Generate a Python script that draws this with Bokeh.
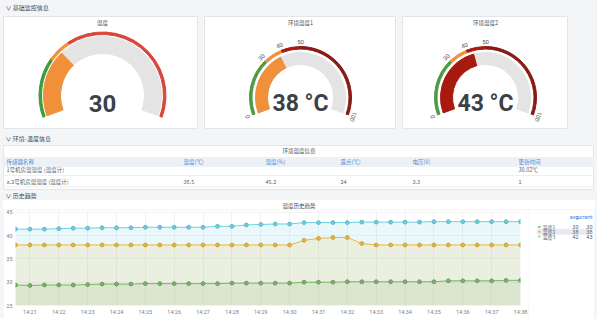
import numpy as np
from bokeh.plotting import figure
from bokeh.layouts import column, row
from bokeh.models import Range1d, FixedTicker, Spacer
from bokeh.core.properties import value
from bokeh.embed import file_html
from bokeh.resources import INLINE

# ================= data =================
section_titles = ["基础监控信息", "环境-温度信息", "历史趋势"]

gauge_titles = ["温度", "环境温度1", "环境温度2"]
gauge_values = [30, 38, 43]
gauge_units = ["", " °C", " °C"]
gauge_min = 0
gauge_max = 100
gauge_thresholds = [[0, 25, 35], [0, 30, 40, 50], [0, 30, 40, 50]]
gauge_show_labels = [False, True, True]

table_title = "环境温度信息"
table_columns = ["传感器名称", "温度(℃)", "湿度(%)", "露点(℃)", "电压(V)", "更新时间"]
table_rows = [
    ["1号机房温湿度 (温度计)", "", "", "", "", "30.02℃"],
    ["a.2号机房温湿度 (温度计)", "38.5", "45.2", "24", "3.3", "1"],
]

chart_title = "温度历史趋势"
series_names = ["温度1", "温度2", "温度3"]
temp1 = [29.4, 29.3, 29.4, 29.4, 29.4, 29.5, 29.6, 29.6, 29.6, 29.7, 29.7, 29.7,
         29.7, 29.7, 29.7, 29.8, 29.8, 29.8, 29.8, 29.8, 30.0, 30.0, 30.0, 30.1,
         30.1, 30.1, 30.1, 30.1, 30.1, 30.1, 30.3, 30.3, 30.3, 30.3, 30.4, 30.4]
temp2 = [38.0, 38.0, 38.0, 38.0, 38.0, 38.0, 38.0, 38.0, 38.0, 38.0, 38.0, 38.0,
         38.0, 38.0, 38.0, 38.0, 38.0, 38.0, 38.0, 38.0, 39.0, 39.4, 39.6, 39.6,
         38.3, 38.0, 38.0, 38.0, 38.0, 38.0, 38.0, 38.0, 38.0, 38.0, 38.0, 38.0]
temp3 = [41.4, 41.4, 41.4, 41.5, 41.6, 41.6, 41.7, 41.7, 41.7, 41.8, 41.8, 41.8,
         41.8, 41.8, 42.0, 42.0, 42.3, 42.4, 42.5, 42.5, 42.8, 42.8, 42.8, 42.8,
         42.9, 42.9, 42.9, 42.9, 42.9, 43.0, 43.0, 43.0, 43.0, 43.0, 43.0, 43.0]
time_labels = ["14:21", "14:22", "14:23", "14:24", "14:25", "14:26", "14:27", "14:28",
               "14:29", "14:30", "14:31", "14:32", "14:33", "14:34", "14:35", "14:36",
               "14:37", "14:38"]
y_ticks = [25, 30, 35, 40, 45]

# ================= style =================
BG = "#f4f5f6"
PANEL = "#ffffff"
BORDER = "#e3e5e8"
TEXT = "#464c54"
CJK = value("Noto Sans CJK SC")
NUM = value("Roboto")
W = 597
TRACK = "#e4e4e4"
gauge_colors = [["#3f9b3c", "#f0903a", "#d8473c"],
                ["#4e9a44", "#f0903a", "#a81a10", "#8a1b14"],
                ["#4e9a44", "#f0903a", "#a81a10", "#8a1b14"]]
series_colors = ["#7EB26D", "#EAB839", "#6ED0E0"]
marker_edges = ["#6a9a5c", "#c9a03a", "#5fb3c2"]


def base_fig(w, h, xr, yr, fill=PANEL, outline=None):
    return figure(width=w, height=h, x_range=Range1d(*xr), y_range=Range1d(*yr),
                  x_axis_type=None, y_axis_type=None, toolbar_location=None,
                  output_backend="svg", min_border=0, border_fill_color=fill,
                  background_fill_color=fill, outline_line_color=outline)


def header(text, h, dy):
    p = base_fig(W, h, (0, W), (h, 0), fill=BG)
    p.text(x=[5], y=[dy], text=["∨  " + text], text_font=CJK, text_font_size="6px",
           text_color=TEXT, text_baseline="middle")
    return p


def gap(w, h):
    return Spacer(width=w, height=h, styles={"background-color": BG})


START, SWEEP = 200.0, 220.0


def ang(v):
    return np.deg2rad(START - (v - gauge_min) / (gauge_max - gauge_min) * SWEEP)


GH = 113
gauge_layout = [
    dict(w=195, cx=99, cy=79, track=(42, 59), band=(61, 63.5), lab=0, fs="24px"),
    dict(w=192, cx=96, cy=81, track=(33, 45), band=(48.5, 51), lab=56, fs="23px"),
    dict(w=166, cx=83, cy=81, track=(33, 45), band=(48.5, 51), lab=56, fs="23px"),
]


def gauge(i):
    L = gauge_layout[i]
    w, cx, cy = L["w"], L["cx"], L["cy"]
    p = base_fig(w, GH, (-cx, w - cx), (-(GH - cy), cy), outline=BORDER)
    v = gauge_values[i]
    th = gauge_thresholds[i]
    cols = gauge_colors[i]
    p.annular_wedge(x=0, y=0, inner_radius=L["track"][0], outer_radius=L["track"][1],
                    start_angle=ang(gauge_max), end_angle=ang(gauge_min), color=TRACK)
    k = max(j for j, t in enumerate(th) if v >= t)
    p.annular_wedge(x=0, y=0, inner_radius=L["track"][0], outer_radius=L["track"][1],
                    start_angle=ang(v), end_angle=ang(gauge_min), color=cols[k])
    bounds = th + [gauge_max]
    n = len(th)
    p.annular_wedge(x=[0] * n, y=[0] * n, inner_radius=L["band"][0], outer_radius=L["band"][1],
                    start_angle=[ang(b) for b in bounds[1:]],
                    end_angle=[ang(b) for b in bounds[:-1]], color=cols)
    if gauge_show_labels[i]:
        th_a = np.array([ang(b) for b in bounds])
        p.text(x=L["lab"] * np.cos(th_a), y=L["lab"] * np.sin(th_a),
               text=[str(b) for b in bounds], angle=th_a - np.pi / 2,
               text_font=NUM, text_font_size="6px", text_color="#555555",
               text_align="center", text_baseline="middle")
    p.text(x=[0], y=[cy - 6], text=[gauge_titles[i]], text_font=CJK,
           text_font_size="5.5px", text_color=TEXT, text_align="center",
           text_baseline="middle")
    p.text(x=[0], y=[cy - 87], text=[f"{v}{gauge_units[i]}"], text_font=NUM,
           text_font_style="bold", text_font_size=L["fs"], text_color="#3d4147",
           text_align="center", text_baseline="middle")
    return p


# ---------------- table ----------------
TW, TH = 591, 45
col_x = [3, 180, 262, 337, 409, 515]
tp = base_fig(TW, TH, (0, TW), (TH, 0), outline=BORDER)
tp.text(x=[TW / 2], y=[5], text=[table_title], text_font=CJK, text_font_size="5.5px",
        text_color=TEXT, text_align="center", text_baseline="middle")
tp.quad(left=0, right=TW, top=12, bottom=21, color="#edf1f6")
tp.text(x=col_x, y=[16.5] * len(col_x), text=table_columns, text_font=CJK,
        text_font_size="5.5px", text_color="#4a86d8", text_baseline="middle")
row_y = [24.5, 36]
for r, ry in zip(table_rows, row_y):
    tp.text(x=col_x, y=[ry] * len(col_x), text=r, text_font=CJK, text_font_size="5.5px",
            text_color="#5a5f66", text_baseline="middle")
tp.segment(x0=[0, 0], x1=[TW, TW], y0=[30, 41.5], y1=[30, 41.5], line_color="#efefef",
           line_width=1)

# ---------------- chart header + title ----------------
HT = 19
ht = base_fig(W, HT, (0, W), (HT, 0), fill=BG)
ht.quad(left=3, right=594, top=10, bottom=HT, color=PANEL)
ht.text(x=[5], y=[5], text=["∨  " + section_titles[2]], text_font=CJK,
        text_font_size="6px", text_color=TEXT, text_baseline="middle")
ht.text(x=[298.5], y=[15], text=[chart_title], text_font=CJK, text_font_size="5.5px",
        text_color=TEXT, text_align="center", text_baseline="middle")

# ---------------- chart ----------------
CW, CH = 525, 110
YMIN, YMAX = 25, 45.4
xs = np.arange(len(temp1))
cp = figure(width=CW, height=CH, x_range=Range1d(0, len(temp1) - 1),
            y_range=Range1d(YMIN, YMAX), toolbar_location=None, output_backend="svg",
            min_border_left=12, min_border_right=8, min_border_top=1,
            min_border_bottom=14, outline_line_color=None,
            border_fill_color=PANEL, background_fill_color=PANEL)

series = [np.array(s, dtype=float) for s in (temp1, temp2, temp3)]
for y, c in zip(series[::-1], series_colors[::-1]):
    cp.varea(x=xs, y1=YMIN, y2=y, fill_color=c, fill_alpha=0.14)
for y, c, e in zip(series, series_colors, marker_edges):
    cp.line(xs, y, line_color=c, line_width=1)
    cp.scatter(xs, y, size=3.8, fill_color=c, line_color=e)

tick_idx = list(range(1, len(temp1), 2))
cp.xaxis.ticker = FixedTicker(ticks=tick_idx)
cp.xaxis.major_label_overrides = {t: lab for t, lab in zip(tick_idx, time_labels)}
cp.yaxis.ticker = FixedTicker(ticks=y_ticks)
for ax in (cp.xaxis[0], cp.yaxis[0]):
    ax.axis_line_color = None
    ax.major_tick_line_color = None
    ax.minor_tick_line_color = None
    ax.major_tick_out = 0
    ax.major_label_text_font_size = "5.5px"
    ax.major_label_text_color = "#7a7f86"
    ax.major_label_text_font = "Roboto"
    ax.major_label_standoff = 3
cp.xgrid.grid_line_color = "#f1f1f1"
cp.ygrid.grid_line_color = "#f3f3f3"

# legend
LW = 66
lp = base_fig(LW, CH, (0, LW), (CH, 0))
row_ly = [19, 24.6, 30.2]
lp.quad(left=9, right=62, top=21.7, bottom=27.4, color="#e8eaed")
lp.text(x=[50, 64], y=[7, 7], text=["avg", "current"], text_align="right",
        text_font=NUM, text_font_size="5.5px", text_color="#4a86d8", text_baseline="middle")
lp.segment(x0=[9.5] * 3, x1=[12] * 3, y0=row_ly, y1=row_ly, line_color=series_colors,
           line_width=1.5)
lp.text(x=[14] * 3, y=row_ly, text=series_names, text_font=CJK, text_font_size="5px",
        text_color="#5a5f66", text_baseline="middle")
avgs = [f"{np.nanmean(s):.0f}" for s in series]
curs = [f"{s[np.isfinite(s)][-1]:.0f}" for s in series]
lp.text(x=[50] * 3, y=row_ly, text=avgs, text_align="right", text_font=NUM,
        text_font_size="5.5px", text_color="#5a5f66", text_baseline="middle")
lp.text(x=[64] * 3, y=row_ly, text=curs, text_align="right", text_font=NUM,
        text_font_size="5.5px", text_color="#5a5f66", text_baseline="middle")

page = column(
    header(section_titles[0], 16, 7),
    row(gap(3, GH), gauge(0), gap(6, GH), gauge(1), gap(6, GH), gauge(2), gap(29, GH)),
    header(section_titles[1], 16, 9),
    row(gap(3, TH), tp, gap(3, TH)),
    ht,
    row(gap(3, CH), cp, lp, gap(3, CH)),
    styles={"background-color": BG},
)

open("out.html", "w").write(file_html(page, INLINE))
